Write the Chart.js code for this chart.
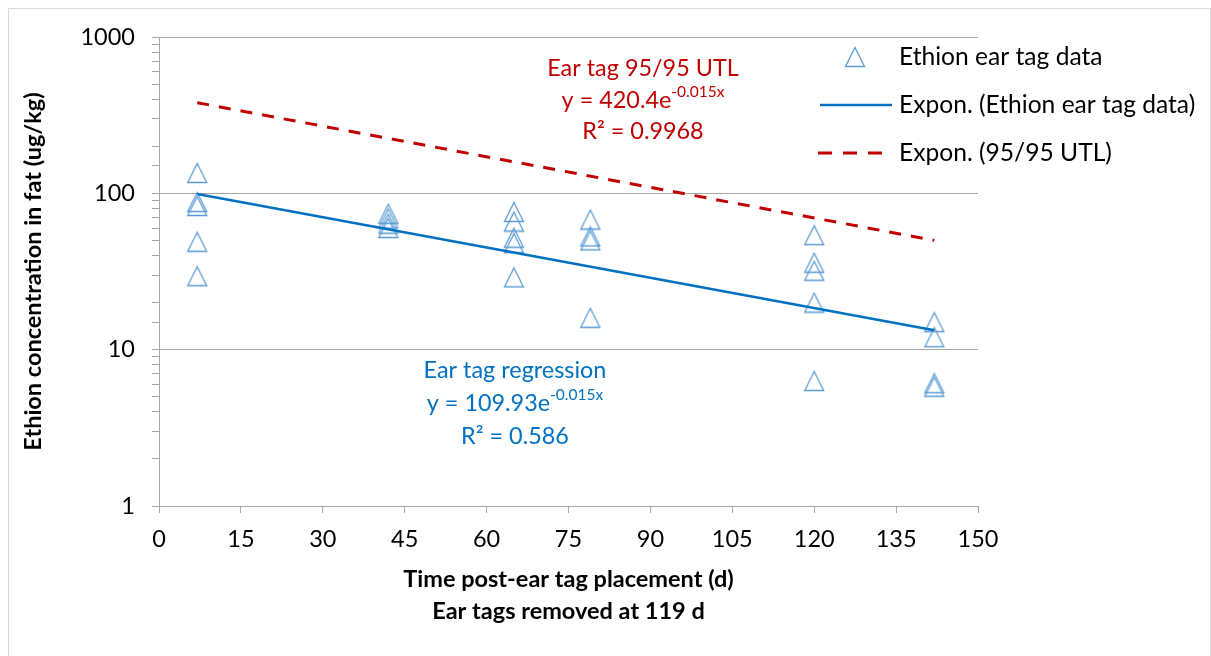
<!DOCTYPE html>
<html><head><meta charset="utf-8">
<script src="https://cdn.jsdelivr.net/npm/chart.js@4.4.0/dist/chart.umd.min.js"></script>
<style>html,body{margin:0;padding:0;background:#fff;} #wrap{width:1211px;height:656px;position:relative;}</style>
</head><body><div id="wrap"><canvas id="c" width="1211" height="656"></canvas></div>
<script>
// ---- data ----
const days = [7,7,7,7,7, 42,42,42,42, 65,65,65,65,65, 79,79,79,79, 120,120,120,120,120, 142,142,142,142];
const concentrations = [135,88,83,49,29.5, 74,69,64,60, 76,66,52,48,29, 68,53,50,16, 54,36,32,20,6.3, 15,12,6.1,5.8];
const trendDays = [7, 142];
const regressionFit = [99, 13.3];
const utlFit = [380, 50];
const xTicks = {min: 0, max: 150, step: 15};
const yTicks = {min: 1, max: 1000};
const legendLabels = ['Ethion ear tag data', 'Expon. (Ethion ear tag data)', 'Expon. (95/95 UTL)'];
const yTitle = 'Ethion concentration in fat (ug/kg)';
const xTitle = ['Time post-ear tag placement (d)', 'Ear tags removed at 119 d'];

const BLUE_PT = '#5B9BD5', BLUE = '#0070C0', RED = '#C00000', GRID = '#A6A6A6';
const FONT = 'Lato, "Open Sans", sans-serif';
const ANN = 23.4, SUP = 15.5, LEG = 24.6;

function triangleImage(){
  const c = document.createElement('canvas'); c.width = 24; c.height = 22;
  const g = c.getContext('2d');
  g.strokeStyle = BLUE_PT; g.lineWidth = 1.3;
  g.beginPath(); g.moveTo(12,1.5); g.lineTo(21.5,20.5); g.lineTo(2.5,20.5); g.closePath(); g.stroke();
  return c;
}
const tri = triangleImage();

const isPow10 = v => Math.abs(Math.log10(v) - Math.round(Math.log10(v))) < 1e-9;

const pts = days.map((d,i)=>({x:d, y:concentrations[i]}));
const reg = trendDays.map((d,i)=>({x:d, y:regressionFit[i]}));
const utl = trendDays.map((d,i)=>({x:d, y:utlFit[i]}));

function drawSupText(ctx, cx, cy, base, sup, color){
  ctx.save();
  ctx.fillStyle = color; ctx.textBaseline = 'middle'; ctx.textAlign = 'left';
  ctx.font = ANN + 'px ' + FONT; const w1 = ctx.measureText(base).width;
  ctx.font = SUP + 'px ' + FONT; const w2 = ctx.measureText(sup).width;
  const sx = cx - (w1 + w2)/2;
  ctx.font = ANN + 'px ' + FONT; ctx.fillText(base, sx, cy);
  ctx.font = SUP + 'px ' + FONT; ctx.fillText(sup, sx + w1, cy - 8);
  ctx.restore();
}
function drawCentered(ctx, cx, cy, text, color){
  ctx.save(); ctx.fillStyle = color; ctx.textBaseline='middle'; ctx.textAlign='center';
  ctx.font = ANN + 'px ' + FONT; ctx.fillText(text, cx, cy); ctx.restore();
}

const decor = {
  id: 'decor',
  beforeDraw(chart){
    const ctx = chart.ctx; ctx.save(); ctx.fillStyle = '#fff'; ctx.fillRect(0,0,chart.width,chart.height); ctx.restore();
  },
  afterDraw(chart){
    const ctx = chart.ctx;
    // outer frame (left, top, right edges visible)
    ctx.save(); ctx.strokeStyle = '#D9D9D9'; ctx.lineWidth = 1;
    ctx.beginPath(); ctx.moveTo(8.5, 656); ctx.lineTo(8.5, 8.5); ctx.lineTo(1210.5, 8.5); ctx.lineTo(1210.5, 656); ctx.stroke();
    ctx.restore();
    // legend
    ctx.save();
    ctx.drawImage(tri, 855 - 12, 57 - 11);
    ctx.strokeStyle = BLUE; ctx.lineWidth = 2.5; ctx.beginPath(); ctx.moveTo(820,105); ctx.lineTo(892,105); ctx.stroke();
    ctx.strokeStyle = RED; ctx.lineWidth = 3; ctx.setLineDash([14,11]); ctx.beginPath(); ctx.moveTo(818,153); ctx.lineTo(882,153); ctx.stroke();
    ctx.setLineDash([]);
    ctx.fillStyle = '#000'; ctx.font = LEG + 'px ' + FONT; ctx.textBaseline = 'middle'; ctx.textAlign = 'left';
    ctx.fillText(legendLabels[0], 899, 57);
    ctx.fillText(legendLabels[1], 899, 105);
    ctx.fillText(legendLabels[2], 899, 153);
    ctx.restore();
    // annotations
    drawCentered(ctx, 643, 68, 'Ear tag 95/95 UTL', RED);
    drawSupText(ctx, 643, 100, 'y = 420.4e', '-0.015x', RED);
    drawCentered(ctx, 643, 131, 'R² = 0.9968', RED);
    drawCentered(ctx, 515, 370, 'Ear tag regression', BLUE);
    drawSupText(ctx, 515, 403, 'y = 109.93e', '-0.015x', BLUE);
    drawCentered(ctx, 515, 436, 'R² = 0.586', BLUE);
  }
};

new Chart(document.getElementById('c'), {
  type: 'scatter',
  data: {
    datasets: [
      {label: legendLabels[1], data: reg, showLine: true, borderColor: BLUE, borderWidth: 2.5, pointRadius: 0, fill: false},
      {label: legendLabels[2], data: utl, showLine: true, borderColor: RED, borderWidth: 3, borderDash: [12,10], pointRadius: 0, fill: false},
      {label: legendLabels[0], data: pts, pointStyle: tri, pointRadius: 10, showLine: false}
    ]
  },
  options: {
    responsive: false, animation: false, devicePixelRatio: 1,
    layout: {padding: {top: 37, right: 233, bottom: 0, left: 0}},
    plugins: {legend: {display: false}, tooltip: {enabled: false}},
    scales: {
      x: {
        type: 'linear', min: xTicks.min, max: xTicks.max,
        afterFit(s){ s.height = 150; },
        ticks: {stepSize: xTicks.step, color: '#000', font: {family: FONT, size: 23.5}, padding: 12, maxRotation: 0},
        grid: {drawOnChartArea: false, drawTicks: true, tickLength: 7, tickColor: GRID},
        border: {color: GRID, width: 1},
        title: {display: true, text: xTitle, color: '#000', font: {family: FONT, size: 23.5, weight: 'bold', lineHeight: 1.36}, padding: {top: 0, bottom: 29}}
      },
      y: {
        type: 'logarithmic', min: yTicks.min, max: yTicks.max,
        afterFit(s){ s.width = 159; },
        ticks: {autoSkip: false, color: '#000', font: {family: FONT, size: 23.5}, padding: 17,
          callback: (v) => isPow10(v) ? String(Math.round(v)) : ''},
        grid: {
          color: (c) => (c.tick && isPow10(c.tick.value)) ? GRID : 'rgba(0,0,0,0)',
          tickColor: GRID, tickLength: 7, lineWidth: 1
        },
        border: {color: GRID, width: 1},
        title: {display: true, text: yTitle, color: '#000', font: {family: FONT, size: 23.5, weight: 'bold'}, padding: {top: 19, bottom: 0}}
      }
    }
  },
  plugins: [decor]
});
</script>
</body></html>
